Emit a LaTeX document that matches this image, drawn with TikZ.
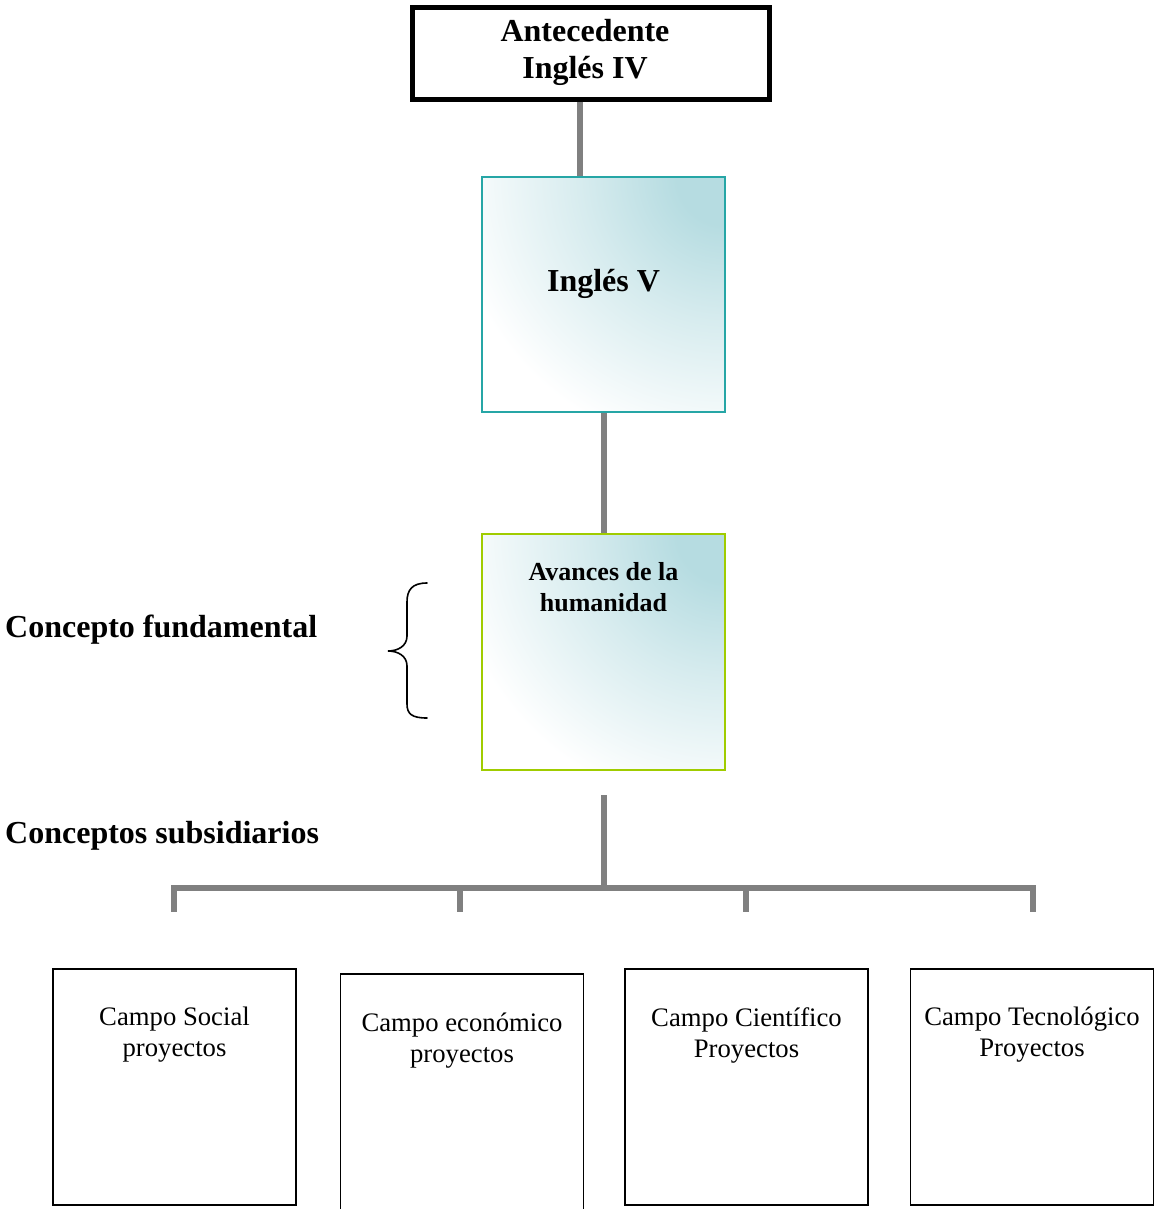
\documentclass[tikz,border=0pt]{standalone}
\usepackage{fontspec}
\setmainfont{Liberation Serif}
\definecolor{tealedge}{RGB}{38,166,166}
\definecolor{tealin}{RGB}{182,220,225}
\definecolor{greenedge}{RGB}{160,204,0}
\definecolor{linkgray}{RGB}{128,128,128}
% soft teal glow that fades to white away from the upper right corner
% (the path's half size corresponds to 25bp of the shading)
\pgfdeclareradialshading{cornerfade}{\pgfpoint{0bp}{0bp}}{%
  color(0bp)=(tealin); color(4bp)=(tealin); color(12bp)=(tealin!55!white);
  color(23bp)=(white); color(50bp)=(white)}
\tikzset{
  headbox/.style={draw=black, line width=5pt, fill=white, minimum width=357pt, minimum height=92pt, inner sep=0pt},
  softbox/.style={line width=2pt, minimum width=243pt, minimum height=235pt, inner sep=0pt,
    path picture={\shade[shading=cornerfade]
      (path picture bounding box.north east) circle (300pt);}},
  fieldbox/.style={draw=black, line width=1.8pt, minimum width=243pt, minimum height=236pt, inner sep=0pt},
  conn/.style={draw=linkgray, line width=6pt},
  bigbold/.style={font=\fontsize{32}{37}\selectfont\bfseries, align=center, inner sep=0pt},
  midbold/.style={font=\fontsize{26}{31}\selectfont\bfseries, align=center, inner sep=0pt},
  fieldtext/.style={font=\fontsize{26.7}{31}\selectfont, align=center, inner sep=0pt},
  sidelabel/.style={font=\fontsize{32}{37}\selectfont\bfseries, anchor=west, inner sep=0pt}
}
\begin{document}
\begin{tikzpicture}[x=1pt,y=-1pt]
\useasboundingbox (0,0) rectangle (1155,1209);

% main chain of boxes
\node[headbox] (ante) at (591,53.5) {};
\node[bigbold] (antetext) at (585,52.5) {Antecedente\\Inglés IV};
\node[softbox, draw=tealedge] (ingles) at (603.5,294.5) {};
\node[bigbold] (inglestext) at (603.5,284) {Inglés V};
\node[softbox, draw=greenedge, minimum height=236pt] (avances) at (603.5,652) {};
\node[midbold] (avancestext) at (603.5,587.5) {Avances de la\\humanidad};

\draw[conn] ([xshift=-11pt]ante.south) -- ([xshift=-11pt]ante.south |- ingles.north);
\draw[conn] (ingles.south) -- (avances.north);

% side labels and brace
\node[sidelabel] (fund) at (5,630) {Concepto fundamental};
\node[sidelabel] (subs) at (5,836) {Conceptos subsidiarios};
\coordinate (bracetop) at (427,583);
\coordinate (bracebot) at (427,718);
\coordinate (bracetip) at (388,651);
\draw[line width=1.6pt, line cap=round]
  (bracetop) .. controls (412,583) and (407,590) .. (407,602)
  -- (407,636) .. controls (407,646) and (398,651) .. (bracetip)
  .. controls (398,651) and (407,656) .. (407,666)
  -- (407,704) .. controls (407,714) and (412,718) .. (bracebot);

% branching connector
\coordinate (trunk) at (603.5,795);
\coordinate (hub) at (603.5,888);
\coordinate (leftend) at (174,888);
\coordinate (rightend) at (1033,888);
\coordinate (d1) at (174,912);
\coordinate (d2) at (460,912);
\coordinate (d3) at (746,912);
\coordinate (d4) at (1033,912);
\draw[conn] (trunk) -- (hub);
\draw[conn] ([xshift=-3pt]leftend) -- ([xshift=3pt]rightend);
\draw[conn] ([yshift=-3pt]leftend) -- (d1);
\draw[conn] (460,888) -- (d2);
\draw[conn] (746,888) -- (d3);
\draw[conn] ([yshift=-3pt]rightend) -- (d4);

% subsidiary fields
\node[fieldbox] (social) at (174.5,1087) {};
\node[fieldtext] (socialtext) at (174.5,1035) {Campo Social\\proyectos};
\node[fieldbox] (econ) at (462,1092) {};
\node[fieldtext] (econtext) at (462,1041) {Campo económico\\proyectos};
\node[fieldbox] (cien) at (746.5,1087) {};
\node[fieldtext] (cientext) at (746.5,1035) {Campo Científico\\Proyectos};
\node[fieldbox] (tec) at (1032,1087) {};
\node[fieldtext] (tectext) at (1032,1035) {Campo Tecnológico\\Proyectos};
\end{tikzpicture}
\end{document}
